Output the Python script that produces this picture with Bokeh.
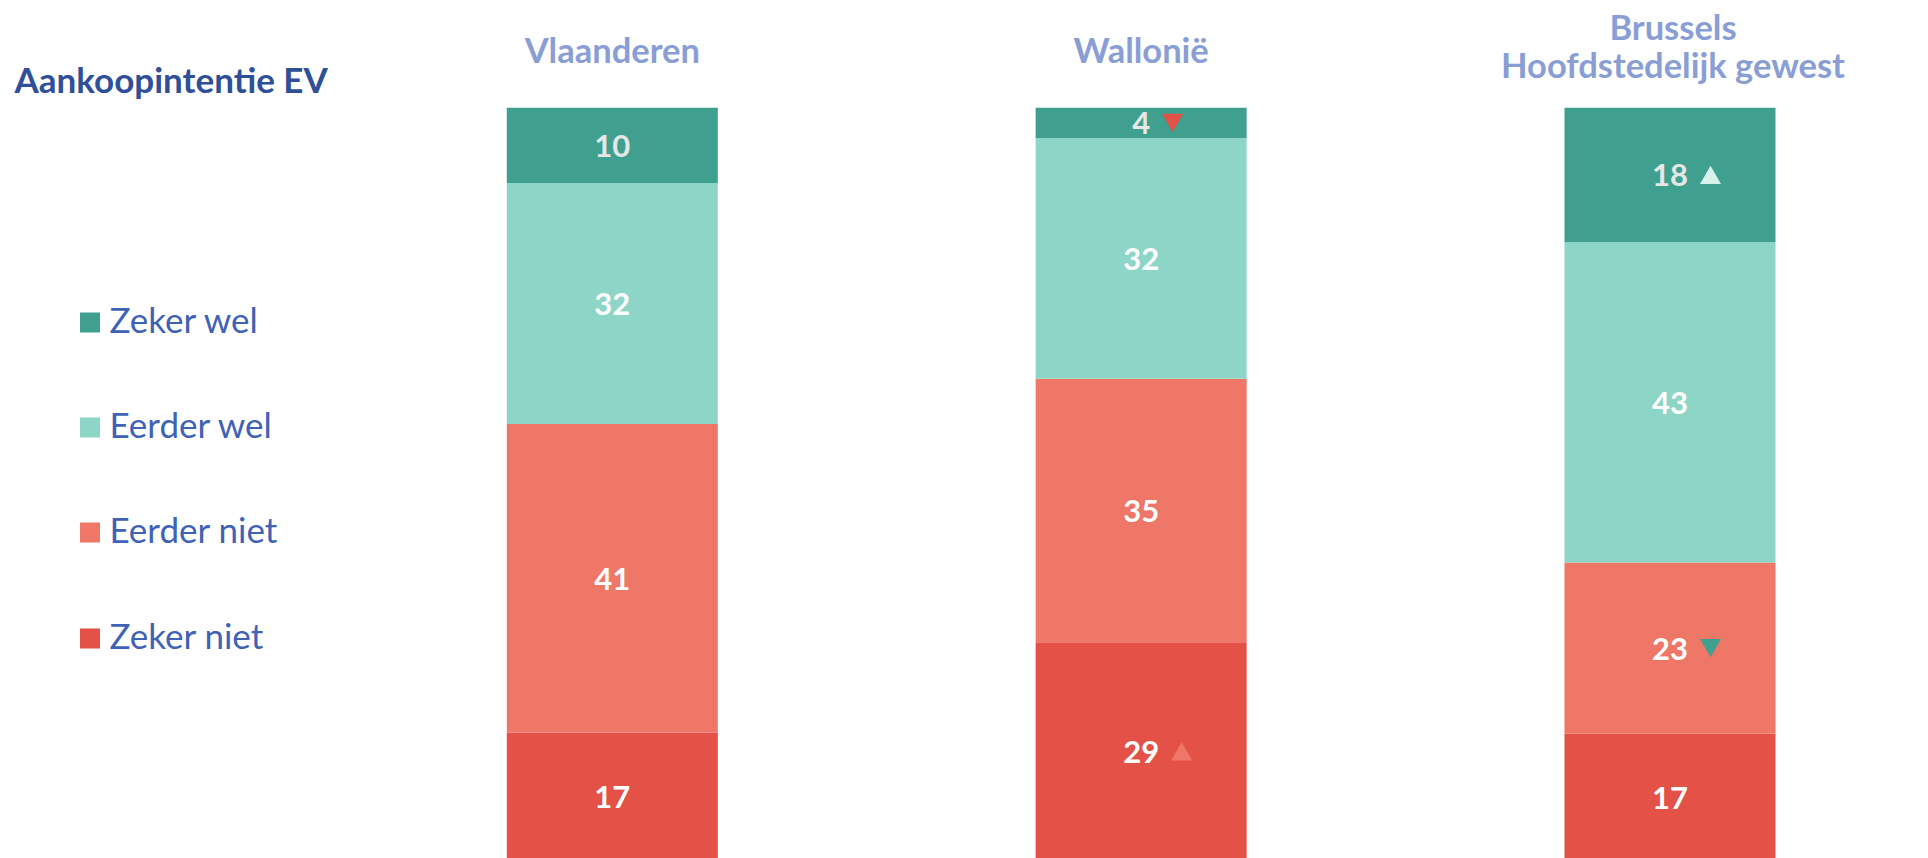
from bokeh.plotting import figure
from bokeh.models import Range1d, ColumnDataSource
from bokeh.embed import file_html
from bokeh.resources import INLINE
from bokeh.core.properties import value

# ---------------- data ----------------
title_text = "Aankoopintentie EV"
regions = ["Vlaanderen", "Wallonië", "Brussels\nHoofdstedelijk gewest"]
series = ["Zeker wel", "Eerder wel", "Eerder niet", "Zeker niet"]
zeker_wel = [10, 4, 18]
eerder_wel = [32, 32, 43]
eerder_niet = [41, 35, 23]
zeker_niet = [17, 29, 17]
# significant changes marked with a triangle
change_series = ["Zeker wel", "Zeker niet", "Zeker wel", "Eerder niet"]
change_region = [1, 1, 2, 2]
change_dir = ["down", "up", "up", "down"]

# ---------------- styles ----------------
colors = {"Zeker wel": "#3FA08F", "Eerder wel": "#8DD6C7",
          "Eerder niet": "#EF7767", "Zeker niet": "#E35147"}
label_colors = {"Zeker wel": "#E6E6E6", "Eerder wel": "#FFFFFF",
                "Eerder niet": "#FFFFFF", "Zeker niet": "#FFFFFF"}
change_colors = ["#E35147", "#EF7767", "#D8F1EB", "#3FA08F"]
FONT = "Lato"

W, H = 1920, 858
PX_X = 528.85          # px between region centres
CX0 = 611.8            # page x of first region centre
TOP_PX, BOT_PX = 107.3, 860.0   # page y of 100 % and 0 %
PPU = (BOT_PX - TOP_PX) / 100.0


def sx(px):
    return (px - CX0) / PX_X


def sy(py):
    return (BOT_PX - py) / PPU


p = figure(width=W, height=H, output_backend="svg", toolbar_location=None,
           x_range=Range1d(sx(0), sx(W)), y_range=Range1d(sy(H), sy(0)),
           x_axis_location=None, y_axis_location=None,
           min_border=0, min_border_left=0, min_border_right=0,
           min_border_top=0, min_border_bottom=0)
p.grid.visible = False
p.outline_line_color = None
p.background_fill_color = "white"
p.border_fill_color = "white"

values = {"Zeker wel": zeker_wel, "Eerder wel": eerder_wel,
          "Eerder niet": eerder_niet, "Zeker niet": zeker_niet}
n = len(regions)
totals = [sum(values[s][i] for s in series) for i in range(n)]
pct = {s: [values[s][i] / totals[i] * 100.0 for i in range(n)] for s in series}

stack_order = list(reversed(series))  # bottom to top
data = {"x": list(range(n))}
for s in series:
    data[s] = pct[s]
src = ColumnDataSource(data)
p.vbar_stack(stack_order, x="x", width=0.399, source=src,
             fill_color=[colors[s] for s in stack_order], line_color=None)

# value labels
centers = {}
lx, ly, lt, lc = [], [], [], []
for i in range(n):
    bottom = 0.0
    for s in stack_order:
        c = bottom + pct[s][i] / 2.0
        centers[(s, i)] = c
        bottom += pct[s][i]
        lx.append(i)
        ly.append(c - 0.5 / PPU)
        lt.append(str(values[s][i]))
        lc.append(label_colors[s])
p.text(x=lx, y=ly, text=lt, text_color=lc, text_font=value(FONT),
       text_font_style="bold", text_font_size="31px",
       text_align="center", text_baseline="middle")

# change triangles
for s, i, d, col in zip(change_series, change_region, change_dir, change_colors):
    v = str(values[s][i])
    tx = i + (9.0 * len(v) + 22.5) / PX_X
    c = centers[(s, i)]
    if d == "up":
        p.scatter(x=[tx], y=[c - 3.0 / PPU], marker="triangle", size=21,
                  fill_color=col, line_color=None)
    else:
        p.scatter(x=[tx], y=[c + 3.0 / PPU], marker="inverted_triangle", size=21,
                  fill_color=col, line_color=None)

# region headers (cap-centre positions)
header_centers = {1: [50.0], 2: [27.0, 64.7]}
hx, hy, ht = [], [], []
for i, r in enumerate(regions):
    lines = r.split("\n")
    for line, b in zip(lines, header_centers[len(lines)]):
        hx.append(i + (3.0 / PX_X if len(lines) > 1 else 0.0))
        hy.append(sy(b - 1))
        ht.append(line)
p.text(x=hx, y=hy, text=ht, text_color="#8A9ED6", text_font=value(FONT),
       text_font_style="bold", text_font_size="34.5px",
       text_align="center", text_baseline="middle")

# title
p.text(x=[sx(14)], y=[sy(78.3)], text=[title_text], text_color="#2F4F98",
       text_font=value(FONT), text_font_style="bold", text_font_size="35px",
       text_align="left", text_baseline="middle")

# legend
leg_y = [322, 427, 532, 638]
p.scatter(x=[sx(89.5)] * len(series), y=[sy(v) for v in leg_y], marker="square",
          size=20, fill_color=[colors[s] for s in series], line_color=None)
p.text(x=[sx(109)] * len(series), y=[sy(v - 3.5) for v in leg_y], text=series,
       text_color="#4062B6", text_font=value(FONT), text_font_size="35px",
       text_align="left", text_baseline="middle")

open("out.html", "w").write(file_html(p, INLINE))
